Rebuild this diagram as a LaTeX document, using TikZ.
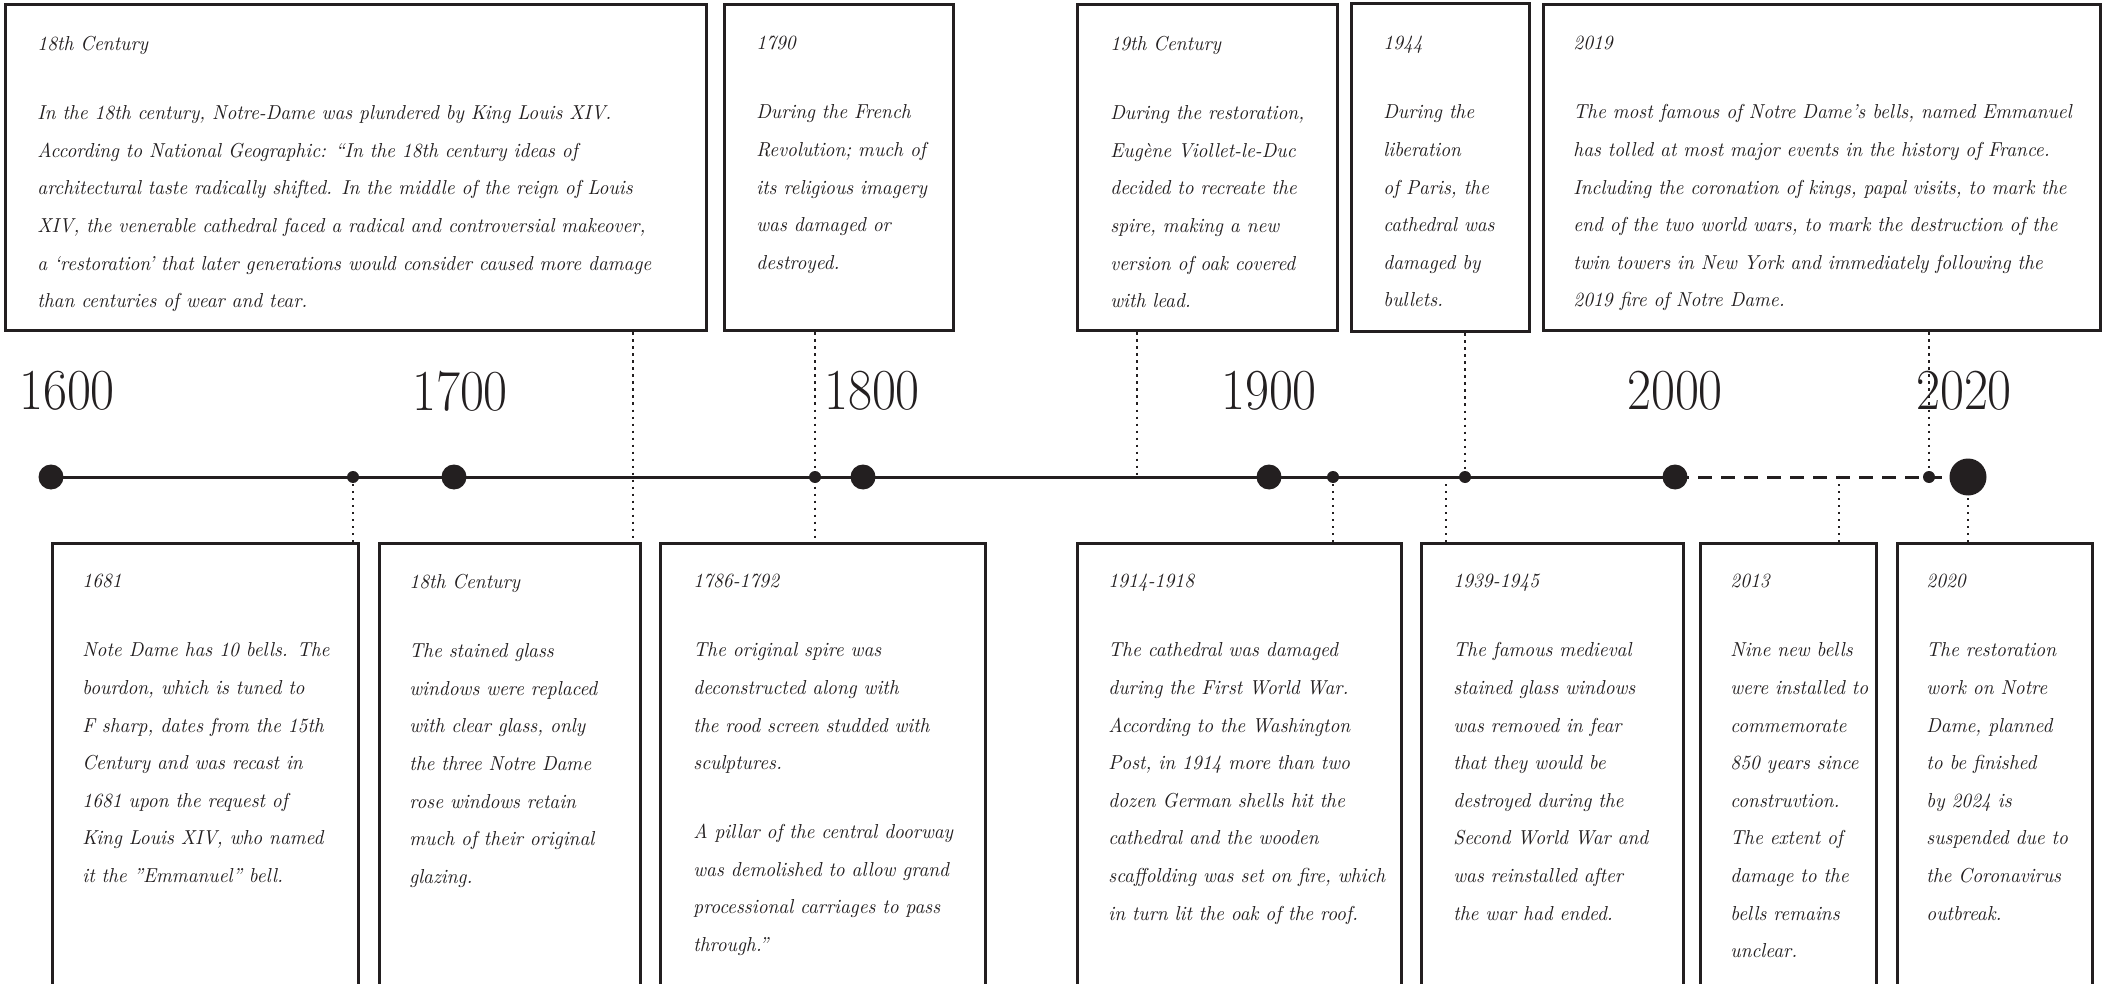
\documentclass[tikz,border=0pt]{standalone}
\usepackage{fontspec}
\usepackage{graphicx}
\usetikzlibrary{fit}
\newfontfamily\evfont[FakeStretch=0.955]{Latin Modern Roman}
\definecolor{ink}{HTML}{231F20}
\begin{document}
\begin{tikzpicture}[x=0.5pt,y=-0.5pt,
  evbox/.style={draw=ink, line width=1.5pt, inner sep=0pt},
  evtext/.style={anchor=north west, inner sep=0pt, align=left, text=ink,
    font=\evfont\fontsize{10.1}{18.8}\selectfont\itshape},
  yearlab/.style={text=ink, inner sep=0pt, font=\fontsize{29}{30}\selectfont},
  dotline/.style={draw=ink, line width=1.1pt, dash pattern=on 1.1pt off 2.4pt},
  axisline/.style={draw=ink, line width=1.5pt},
  axisdash/.style={draw=ink, line width=1.5pt, dash pattern=on 7pt off 4.5pt},
  bigdot/.style={circle, fill=ink, inner sep=0pt, minimum size=12.5pt},
  enddot/.style={circle, fill=ink, inner sep=0pt, minimum size=18.5pt},
  smalldot/.style={circle, fill=ink, inner sep=0pt, minimum size=6pt}]
\useasboundingbox (0,0) rectangle (2105,984);
\clip (0,0) rectangle (2105,984);
\fill[white] (0,0) rectangle (2105,984);

% top boxes
\node[evbox, fit={(5,5) (706,331)}] (T1) {};
\node[evbox, fit={(724,5) (953,331)}] (T2) {};
\node[evbox, fit={(1077,5) (1337,331)}] (T3) {};
\node[evbox, fit={(1351,4) (1529,332)}] (T4) {};
\node[evbox, fit={(1543,5) (2100,331)}] (T5) {};
% bottom boxes
\node[evbox, fit={(52,543) (358,1010)}] (B1) {};
\node[evbox, fit={(379,543) (640,1010)}] (B2) {};
\node[evbox, fit={(660,543) (985,1010)}] (B3) {};
\node[evbox, fit={(1077,543) (1401,1010)}] (B4) {};
\node[evbox, fit={(1421,543) (1683,1010)}] (B5) {};
\node[evbox, fit={(1700,543) (1876,1010)}] (B6) {};
\node[evbox, fit={(1897,543) (2092,1010)}] (B7) {};

% texts
\node[evtext] (T1t) at (37,36) {18th Century\\[15.7pt]
In the 18th century, Notre-Dame was plundered by King Louis XIV.\\
According to National Geographic: “In the 18th century ideas of\\
architectural taste radically shifted. In the middle of the reign of Louis\\
XIV, the venerable cathedral faced a radical and controversial makeover,\\
a ‘restoration’ that later generations would consider caused more damage\\
than centuries of wear and tear.};
\node[evtext] (T2t) at (756,36) {1790\\[15.7pt]
During the French\\ Revolution; much of\\ its religious imagery\\ was damaged or\\ destroyed.};
\node[evtext] (T3t) at (1110,36) {19th Century\\[15.7pt]
During the restoration,\\ Eugène Viollet-le-Duc\\ decided to recreate the\\ spire, making a new\\ version of oak covered\\ with lead.};
\node[evtext] (T4t) at (1383,36) {1944\\[15.7pt]
During the\\ liberation\\ of Paris, the\\ cathedral was\\ damaged by\\ bullets.};
\node[evtext] (T5t) at (1573,36) {2019\\[15.7pt]
The most famous of Notre Dame’s bells, named Emmanuel\\
has tolled at most major events in the history of France.\\
Including the coronation of kings, papal visits, to mark the\\
end of the two world wars, to mark the destruction of the\\
twin towers in New York and immediately following the\\
2019 fire of Notre Dame.};

\node[evtext] (B1t) at (82,574) {1681\\[15.7pt]
Note Dame has 10 bells. The\\ bourdon, which is tuned to\\ F sharp, dates from the 15th\\ Century and was recast in\\ 1681 upon the request of\\ King Louis XIV, who named\\ it the ”Emmanuel” bell.};
\node[evtext] (B2t) at (409,574) {18th Century\\[15.7pt]
The stained glass\\ windows were replaced\\ with clear glass, only\\ the three Notre Dame\\ rose windows retain\\ much of their original\\ glazing.};
\node[evtext] (B3t) at (693,574) {1786-1792\\[15.7pt]
The original spire was\\ deconstructed along with\\ the rood screen studded with\\ sculptures.\\[15.7pt]
A pillar of the central doorway\\ was demolished to allow grand\\ processional carriages to pass\\ through.”};
\node[evtext] (B4t) at (1108,574) {1914-1918\\[15.7pt]
The cathedral was damaged\\ during the First World War.\\ According to the Washington\\ Post, in 1914 more than two\\ dozen German shells hit the\\ cathedral and the wooden\\ scaffolding was set on fire, which\\ in turn lit the oak of the roof.};
\node[evtext] (B5t) at (1453,574) {1939-1945\\[15.7pt]
The famous medieval\\ stained glass windows\\ was removed in fear\\ that they would be\\ destroyed during the\\ Second World War and\\ was reinstalled after\\ the war had ended.};
\node[evtext] (B6t) at (1730,574) {2013\\[15.7pt]
Nine new bells\\ were installed to\\ commemorate\\ 850 years since\\ construvtion.\\ The extent of\\ damage to the\\ bells remains\\ unclear.};
\node[evtext] (B7t) at (1926,574) {2020\\[15.7pt]
The restoration\\ work on Notre\\ Dame, planned\\ to be finished\\ by 2024 is\\ suspended due to\\ the Coronavirus\\ outbreak.};

% timeline positions
\coordinate (y1600) at (51,477);
\coordinate (y1700) at (454,477);
\coordinate (y1800) at (863,477);
\coordinate (y1900) at (1269,477);
\coordinate (y2000) at (1675,477);
\coordinate (y2020) at (1968,477);
\coordinate (s1) at (353,477);
\coordinate (s2) at (815,477);
\coordinate (s3) at (1333,477);
\coordinate (s4) at (1465,477);
\coordinate (s5) at (1929,477);
\coordinate (k1) at (633,477);
\coordinate (k2) at (1137,477);
\coordinate (k3) at (1446,477);
\coordinate (k4) at (1839,477);

% year labels
\node[yearlab] (L1600) at (67,391) {\scalebox{0.9}[1]{1600}};
\node[yearlab] (L1700) at (460,391) {\scalebox{0.9}[1]{1700}};
\node[yearlab] (L1800) at (872,391) {\scalebox{0.9}[1]{1800}};
\node[yearlab] (L1900) at (1269,391) {\scalebox{0.9}[1]{1900}};
\node[yearlab] (L2000) at (1675,391) {\scalebox{0.9}[1]{2000}};
\node[yearlab] (L2020) at (1964,391) {\scalebox{0.9}[1]{2020}};

% connectors
\draw[dotline] (T1.south -| k1) -- (B2.north -| k1);
\draw[dotline] (T2.south -| s2) -- (B3.north -| s2);
\draw[dotline] (s1) -- (B1.north -| s1);
\draw[dotline] (T3.south -| k2) -- (k2);
\draw[dotline] (s3) -- (B4.north -| s3);
\draw[dotline] (T4.south -| s4) -- (s4);
\draw[dotline] (k3) -- (B5.north -| k3);
\draw[dotline] (T5.south -| s5) -- (s5);
\draw[dotline] (k4) -- (B6.north -| k4);
\draw[dotline] (y2020) -- (B7.north -| y2020);

% axis
\draw[axisline] (y1600) -- (y2000);
\draw[axisdash] (y2000) -- (y2020);

% dots
\node[bigdot] (D1600) at (y1600) {};
\node[bigdot] (D1700) at (y1700) {};
\node[bigdot] (D1800) at (y1800) {};
\node[bigdot] (D1900) at (y1900) {};
\node[bigdot] (D2000) at (y2000) {};
\node[enddot] (D2020) at (y2020) {};
\node[smalldot] (S1) at (s1) {};
\node[smalldot] (S2) at (s2) {};
\node[smalldot] (S3) at (s3) {};
\node[smalldot] (S4) at (s4) {};
\node[smalldot] (S5) at (s5) {};
\end{tikzpicture}
\end{document}
